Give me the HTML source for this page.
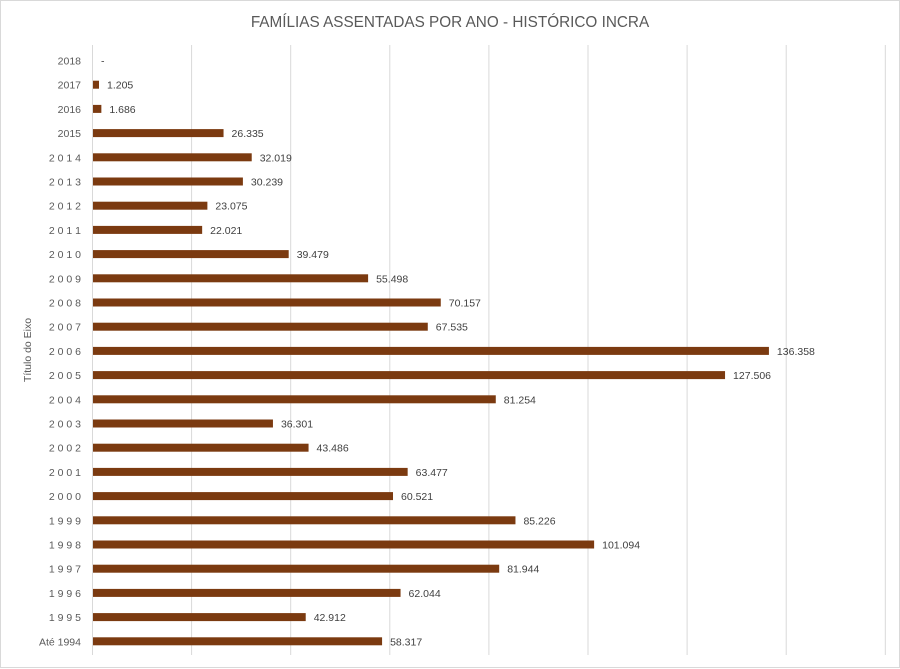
<!DOCTYPE html>
<html><head><meta charset="utf-8"><style>
html,body{margin:0;padding:0;background:#fff;}
svg{display:block;font-family:"Liberation Sans",sans-serif;}
</style></head><body>
<svg id="s" width="900" height="669" xmlns="http://www.w3.org/2000/svg">
<rect x="0.5" y="0.5" width="899" height="667" fill="#fff" stroke="#d9d9d9"/>
<text x="450" y="27" text-anchor="middle" font-size="15.3" fill="#595959">FAMÍLIAS ASSENTADAS POR ANO - HISTÓRICO INCRA</text>
<text transform="translate(31,350) rotate(-90)" text-anchor="middle" font-size="10.5" fill="#595959">Título do Eixo</text>
<g id="g"></g>
</svg>
<script>
var d=[["2018",0,"-"],["2017",1205],["2016",1686],["2015",26335],["2 0 1 4",32019],["2 0 1 3",30239],["2 0 1 2",23075],["2 0 1 1",22021],["2 0 1 0",39479],["2 0 0 9",55498],["2 0 0 8",70157],["2 0 0 7",67535],["2 0 0 6",136358],["2 0 0 5",127506],["2 0 0 4",81254],["2 0 0 3",36301],["2 0 0 2",43486],["2 0 0 1",63477],["2 0 0 0",60521],["1 9 9 9",85226],["1 9 9 8",101094],["1 9 9 7",81944],["1 9 9 6",62044],["1 9 9 5",42912],["Até 1994",58317]];
var h='',x0=93,k=0.004957;
for(var i=0;i<=8;i++){var gx=92.5+i*99.1;h+='<line x1="'+gx+'" y1="45" x2="'+gx+'" y2="655" stroke="#d9d9d9"/>';}
function fmt(v){return v.toString().replace(/\B(?=(\d{3})+(?!\d))/g,'.');}
d.forEach(function(r,i){var y=60.5+24.2*i;var w=Math.max(r[1]*k,r[1]?6:0);
h+='<text x="81" y="'+(y+4)+'" text-anchor="end" font-size="10.5" fill="#595959">'+r[0]+'</text>';
if(w)h+='<rect x="'+x0+'" y="'+(y-4)+'" width="'+w+'" height="8" fill="#7b3a10"/>';
h+='<text x="'+(x0+w+8)+'" y="'+(y+4)+'" font-size="10.5" fill="#404040">'+(r[2]||fmt(r[1]))+'</text>';});
document.getElementById('g').innerHTML=h;
</script>
</body></html>
